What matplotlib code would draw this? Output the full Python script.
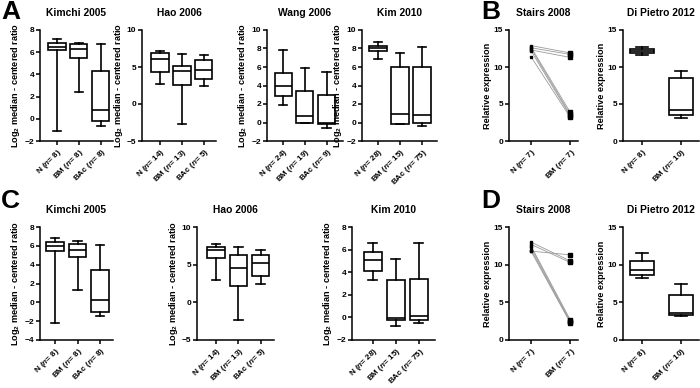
import matplotlib.pyplot as plt

plt.rcParams['font.family'] = ['Liberation Sans', 'DejaVu Sans']
plt.rcParams['font.weight'] = 'bold'
plt.rcParams['mathtext.fontset'] = 'custom'
plt.rcParams['mathtext.rm'] = 'Liberation Sans:bold'
plt.rcParams['mathtext.it'] = 'Liberation Sans:italic:bold'
plt.rcParams['mathtext.bf'] = 'Liberation Sans:bold'
plt.rcParams['axes.linewidth'] = 1.1

# five-number summaries per group: [whisker low, q1, median, q3, whisker high]
groups3 = ['N', 'BM', 'BAc']
groups2 = ['N', 'BM']

kimchi_a = [[-1.1, 6.2, 6.5, 6.8, 7.2], [2.4, 5.5, 6.3, 6.75, 6.8], [-0.65, -0.2, 0.8, 4.3, 6.7]]
kimchi_a_n = [8, 8, 8]
hao_a = [[2.7, 4.3, 6.1, 6.9, 7.2], [-2.7, 2.6, 4.4, 5.1, 6.7], [2.4, 3.4, 4.6, 5.9, 6.6]]
hao_a_n = [14, 13, 5]
wang_a = [[1.85, 2.9, 3.9, 5.35, 7.8], [0.0, 0.0, 0.65, 3.45, 5.9], [-0.55, -0.2, -0.1, 3.0, 5.5]]
wang_a_n = [24, 19, 9]
kim_a = [[6.85, 7.7, 8.0, 8.3, 8.7], [-0.2, -0.15, 0.9, 6.05, 7.5], [-0.35, -0.1, 0.8, 6.0, 8.15]]
kim_a_n = [28, 15, 75]

kimchi_c = [[-2.2, 5.4, 6.0, 6.4, 6.8], [1.3, 4.8, 5.55, 6.2, 6.5], [-1.4, -1.0, 0.2, 3.4, 6.1]]
kimchi_c_n = [8, 8, 8]
hao_c = [[2.9, 5.9, 7.0, 7.3, 7.8], [-2.3, 2.2, 4.5, 6.3, 7.3], [2.4, 3.5, 5.2, 6.3, 6.9]]
hao_c_n = [14, 13, 5]
kim_c = [[3.3, 4.15, 5.05, 5.75, 6.6], [-0.8, -0.25, -0.05, 3.3, 5.15], [-0.5, -0.2, 0.15, 3.4, 6.55]]
kim_c_n = [28, 15, 75]

dipietro_b = [[11.65, 11.85, 12.15, 12.5, 12.7], [3.1, 3.45, 4.15, 8.5, 9.5]]
dipietro_d = [[8.2, 8.6, 9.3, 10.5, 11.6], [3.2, 3.35, 3.6, 6.0, 7.4]]
dipietro_n = [8, 10]

stairs_b_n_vals = [12.9, 12.6, 12.3, 12.7, 12.5, 12.2, 11.4]
stairs_b_bm_vals = [11.9, 11.7, 11.3, 3.9, 3.6, 3.4, 3.2]
stairs_d_n_vals = [13.0, 12.7, 11.8, 12.5, 12.3, 12.0, 11.8]
stairs_d_bm_vals = [10.5, 10.3, 11.3, 2.7, 2.5, 2.4, 2.3]
stairs_n = [7, 7]

W, H = 700, 388
fig = plt.figure(figsize=(7.0, 3.88), dpi=100)

LOG_LABEL = r'Log$_2$ median - centered ratio'


def px_axes(left, right, top, bottom):
    ax = fig.add_axes([left / W, 1 - bottom / H, (right - left) / W, (bottom - top) / H])
    ax.spines['top'].set_visible(False)
    ax.spines['right'].set_visible(False)
    ax.tick_params(length=3, width=1.1, labelsize=6, pad=1.2)
    return ax


def tick_names(groups, ns):
    return [f'{g} ($\\mathit{{n}}$= {n})' for g, n in zip(groups, ns)]


def finish(ax, title, groups, ns, ylim, ystep, ylabel, xlim):
    ax.set_xlim(*xlim)
    ax.set_ylim(*ylim)
    ticks = []
    v = ylim[0]
    while v <= ylim[1] + 1e-9:
        ticks.append(v)
        v += ystep
    ax.set_yticks(ticks)
    ax.set_xticks(range(1, len(groups) + 1))
    ax.set_xticklabels(tick_names(groups, ns), rotation=45, ha='right',
                       rotation_mode='anchor', fontsize=5.9)
    ax.set_title(title, fontsize=7.4, fontweight='bold', pad=10)
    ax.set_ylabel(ylabel, fontsize=6.6, fontweight='bold', labelpad=1.5)


def draw_boxes(ax, summary, width):
    stats = [dict(whislo=s[0], q1=s[1], med=s[2], q3=s[3], whishi=s[4], fliers=[])
             for s in summary]
    lp = dict(color='black', linewidth=1.2)
    ax.bxp(stats, positions=list(range(1, len(stats) + 1)), widths=width,
           capwidths=width * 0.5, showfliers=False, patch_artist=True,
           boxprops=dict(facecolor='white', edgecolor='black', linewidth=1.2),
           medianprops=lp, whiskerprops=lp, capprops=lp, manage_ticks=False)


def draw_pairs(ax, before, after):
    for a, b in zip(before, after):
        ax.plot([1, 2], [a, b], color='#9a9a9a', linewidth=0.6, zorder=2)
    ax.plot([1] * len(before), before, 's', color='black', ms=1.7, zorder=3)
    ax.plot([2] * len(after), after, 's', color='black', ms=2.3, zorder=3)


# Row A / B
ax = px_axes(40, 113, 30, 141)
draw_boxes(ax, kimchi_a, 0.78)
finish(ax, 'Kimchi 2005', groups3, kimchi_a_n, (-2, 8), 2, LOG_LABEL, (0.23, 3.55))

ax = px_axes(142, 216, 30, 141)
draw_boxes(ax, hao_a, 0.78)
finish(ax, 'Hao 2006', groups3, hao_a_n, (-5, 10), 5, LOG_LABEL, (0.18, 3.55))

ax = px_axes(267, 343, 30, 141)
draw_boxes(ax, wang_a, 0.78)
finish(ax, 'Wang 2006', groups3, wang_a_n, (-2, 10), 2, LOG_LABEL, (0.26, 3.75))

ax = px_axes(362, 437, 30, 141)
draw_boxes(ax, kim_a, 0.78)
finish(ax, 'Kim 2010', groups3, kim_a_n, (-2, 10), 2, LOG_LABEL, (0.27, 3.68))

ax = px_axes(509, 578, 30, 141)
draw_pairs(ax, stairs_b_n_vals, stairs_b_bm_vals)
finish(ax, 'Stairs 2008', groups2, stairs_n, (0, 15), 5, 'Relative expression', (0.44, 2.2))

ax = px_axes(623, 699, 30, 141)
draw_boxes(ax, dipietro_b, 0.62)
finish(ax, 'Di Pietro 2012', groups2, dipietro_n, (0, 15), 5, 'Relative expression', (0.51, 2.46))

# Row C / D
ax = px_axes(40, 113, 227, 340)
draw_boxes(ax, kimchi_c, 0.78)
finish(ax, 'Kimchi 2005', groups3, kimchi_c_n, (-4, 8), 2, LOG_LABEL, (0.33, 3.58))

ax = px_axes(197, 274, 227, 340)
draw_boxes(ax, hao_c, 0.78)
finish(ax, 'Hao 2006', groups3, hao_c_n, (-5, 10), 5, LOG_LABEL, (0.15, 3.6))

ax = px_axes(352, 435, 227, 340)
draw_boxes(ax, kim_c, 0.78)
finish(ax, 'Kim 2010', groups3, kim_c_n, (-2, 8), 2, LOG_LABEL, (0.09, 3.7))

ax = px_axes(509, 578, 227, 340)
draw_pairs(ax, stairs_d_n_vals, stairs_d_bm_vals)
finish(ax, 'Stairs 2008', groups2, stairs_n, (0, 15), 5, 'Relative expression', (0.44, 2.2))

ax = px_axes(623, 699, 227, 340)
draw_boxes(ax, dipietro_d, 0.62)
finish(ax, 'Di Pietro 2012', groups2, dipietro_n, (0, 15), 5, 'Relative expression', (0.51, 2.46))

# panel letters
for letter, x, y in [('A', 1, 0), ('B', 481, 0), ('C', 1, 189), ('D', 481, 189)]:
    fig.text(x / W, 1 - y / H, letter, fontsize=19, fontweight='bold', va='top', ha='left')

fig.savefig('out.png', dpi=100)
